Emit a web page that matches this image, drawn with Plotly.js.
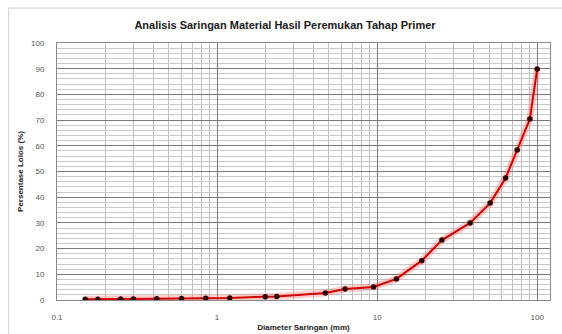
<!DOCTYPE html>
<html>
<head>
<meta charset="utf-8">
<script src="https://cdn.plot.ly/plotly-3.0.1.min.js"></script>
<style>
html,body{margin:0;padding:0;background:#fff;}
#chart{width:562px;height:334px;}
</style>
</head>
<body>
<div id="chart"></div>
<script>
const diameter = [0.15, 0.18, 0.25, 0.30, 0.42, 0.60, 0.85, 1.2, 2.0, 2.36, 4.75, 6.3, 9.5, 13.2, 19.0, 25.4, 38.1, 50.8, 63.5, 75.0, 90.0, 100.0];
const lolos    = [0.3, 0.3, 0.4, 0.4, 0.5, 0.6, 0.7, 0.8, 1.3, 1.4, 2.7, 4.3, 5.1, 8.2, 15.3, 23.3, 30.0, 37.7, 47.5, 58.4, 70.4, 89.9];
const xTickVals = [0.1, 1, 10, 100];
const xTickText = ['0.1', '1', '10', '100'];

const font = 'Liberation Sans, Arial, sans-serif';

const glow = {
  x: diameter, y: lolos, type: 'scatter', mode: 'lines',
  line: {color: 'rgba(255,110,110,0.35)', width: 7},
  hoverinfo: 'skip', showlegend: false
};
const main = {
  x: diameter, y: lolos, type: 'scatter', mode: 'lines+markers',
  line: {color: '#d00000', width: 2},
  marker: {color: '#300000', size: 5.5, symbol: 'circle'},
  showlegend: false
};

const layout = {
  width: 562, height: 334,
  margin: {l: 57, r: 12, t: 43, b: 34},
  paper_bgcolor: '#ffffff', plot_bgcolor: '#ffffff',
  title: {text: '<b>Analisis Saringan Material Hasil Peremukan Tahap Primer</b>',
          font: {family: font, size: 11, color: '#1a1a1a'}, x: 285/562, xanchor: 'center', y: 1 - 25/334, yanchor: 'middle'},
  xaxis: {
    type: 'log', range: [-1, 2.08],
    tickvals: xTickVals, ticktext: xTickText,
    tickfont: {family: font, size: 8, color: '#555'},
    ticklabelstandoff: 9,
    showgrid: true, gridcolor: '#7a7a7a', gridwidth: 1,
    minor: {dtick: 'D1', showgrid: true, gridcolor: '#c0c0c0', gridwidth: 1},
    showline: true, linecolor: '#888', mirror: true,
    zeroline: false, ticks: '',
    title: {text: '<b>Diameter Saringan (mm)</b>', font: {family: font, size: 8, color: '#222'}, standoff: 3}
  },
  yaxis: {
    range: [0, 100], dtick: 10,
    tickfont: {family: font, size: 8, color: '#555'},
    ticklabelstandoff: 10,
    showgrid: true, gridcolor: '#7a7a7a', gridwidth: 1,
    minor: {dtick: 2, showgrid: true, gridcolor: '#c8c8c8', gridwidth: 1},
    showline: true, linecolor: '#888', mirror: true,
    zeroline: false, ticks: '',
    title: {text: '<b>Persentase Lolos (%)</b>', font: {family: font, size: 8, color: '#222'}, standoff: 6}
  },
  shapes: [{type: 'rect', xref: 'paper', yref: 'paper', x0: -0.098, x1: 1.04, y0: -0.2, y1: 1.136,
            line: {color: '#d0d0d0', width: 1}, fillcolor: 'rgba(0,0,0,0)', layer: 'below'}]
};

Plotly.newPlot('chart', [glow, main], layout, {staticPlot: true, displayModeBar: false});
</script>
</body>
</html>
